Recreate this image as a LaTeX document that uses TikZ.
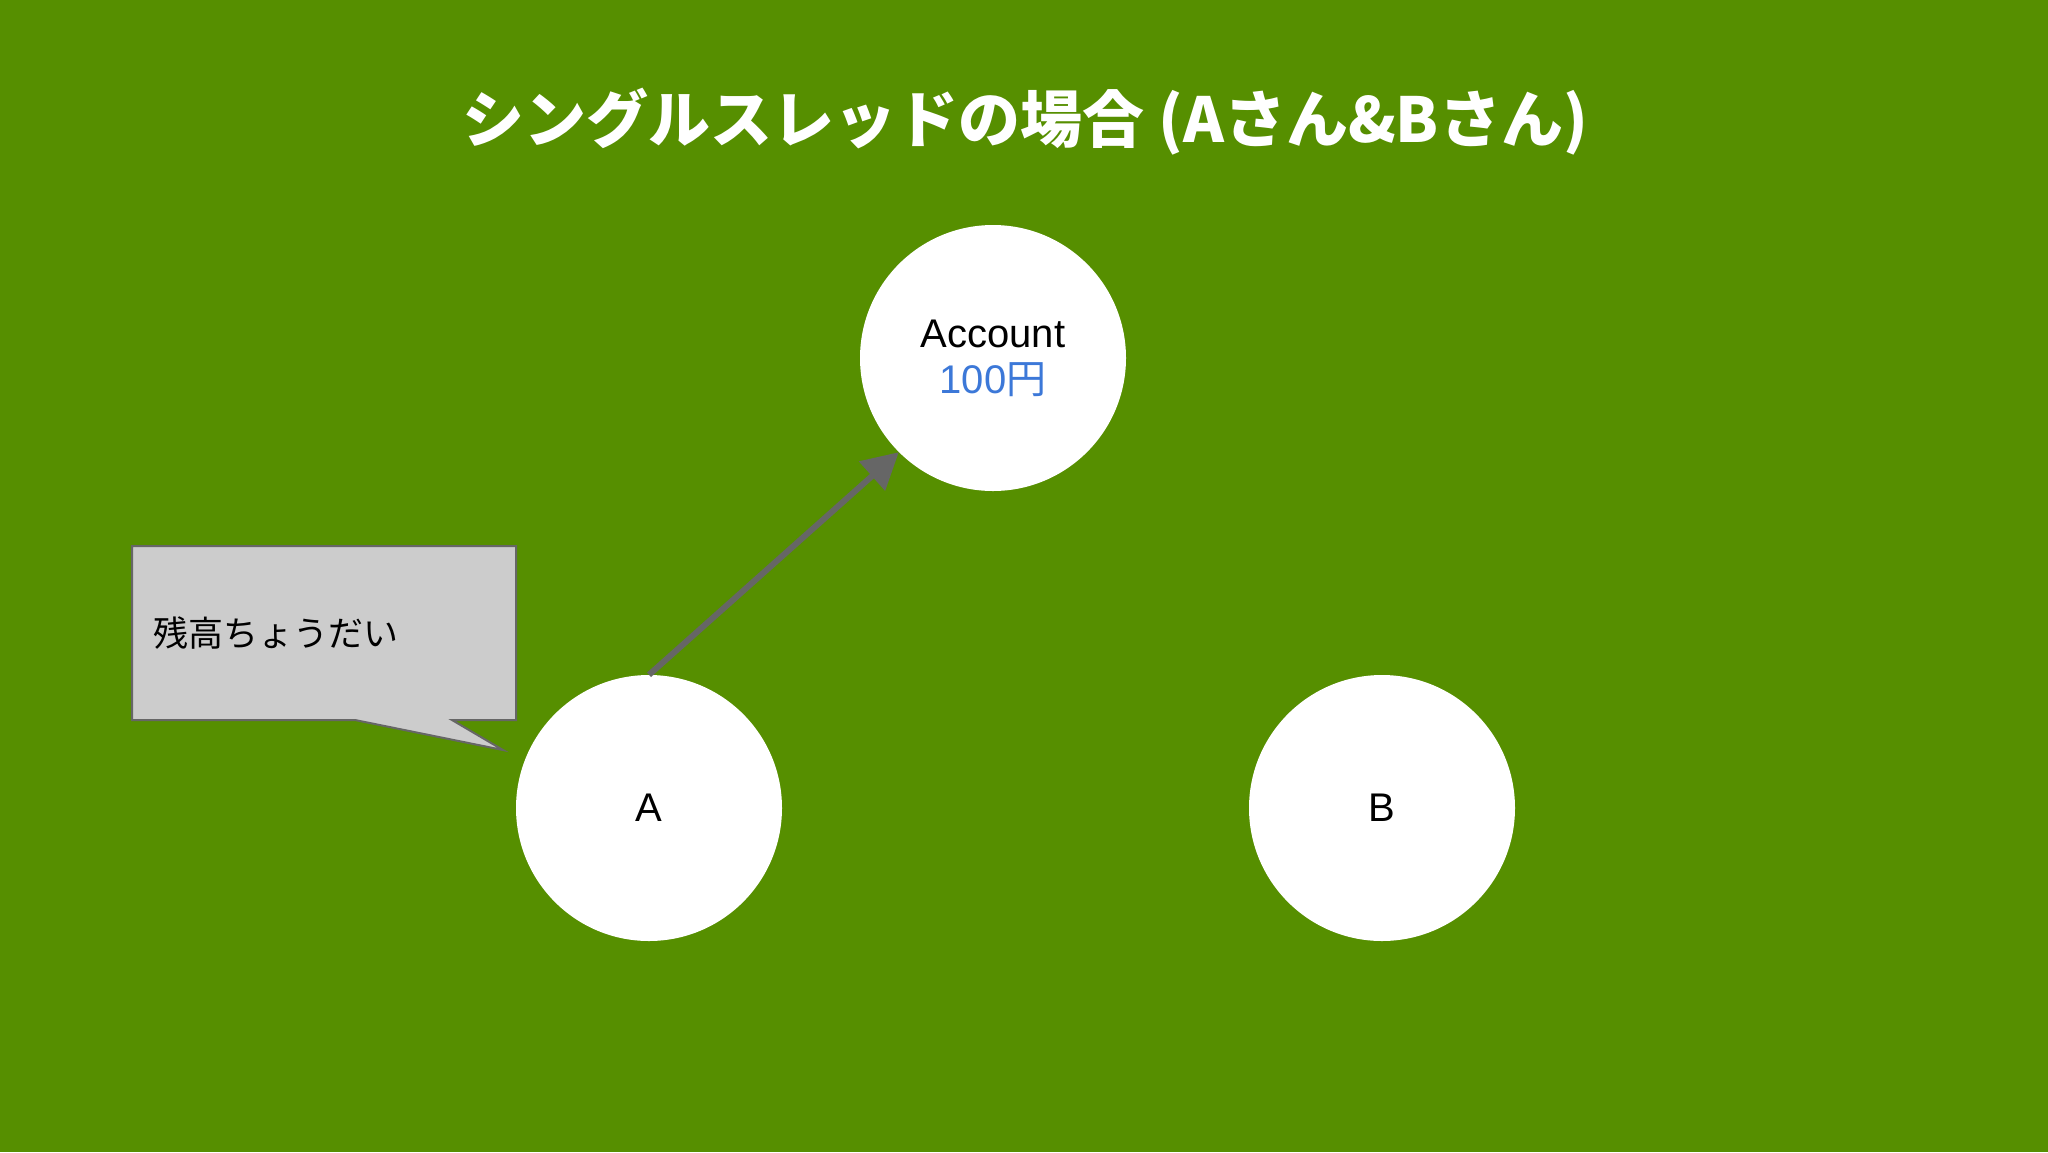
\documentclass[tikz,border=0pt]{standalone}
\usepackage{fontspec}
\setmainfont{Liberation Sans}
\newfontfamily\jp{Noto Sans CJK JP}
\usetikzlibrary{arrows.meta}
\definecolor{bggreen}{RGB}{86,143,0}
\definecolor{calloutgray}{RGB}{204,204,204}
\definecolor{edgegray}{RGB}{102,102,102}
\definecolor{moneyblue}{RGB}{60,120,216}
\tikzset{
  actor/.style={circle, fill=white, draw=none, minimum size=266pt, inner sep=0pt,
    font=\fontsize{40}{46}\selectfont, align=center},
  msg/.style={draw=edgegray, line width=6pt, -{Triangle[length=36pt,width=38pt]}},
  balloon/.style={fill=calloutgray, draw=edgegray, line width=2pt, line join=miter},
}
\begin{document}
\begin{tikzpicture}[x=1pt,y=-1pt]
\fill[bggreen] (0,0) rectangle (2048,1152);
\useasboundingbox (0,0) rectangle (2048,1152);

\node[text=white, font=\jp\bfseries\fontsize{62}{72}\selectfont] (title) at (1025,122)
  {シングルスレッドの場合 (Aさん\&Bさん)};

\node[actor] (account) at (993,358)
  {Account\\[0pt]\textcolor{moneyblue}{100{\jp 円}}};
\node[actor] (a) at (649,808) {A};
\node[actor] (b) at (1382,808) {B};

\coordinate (tl) at (132,546);
\coordinate (tr) at (516,546);
\coordinate (br) at (516,720);
\coordinate (t1) at (452,720);
\coordinate (tip) at (503,750);
\coordinate (t2) at (355,720);
\coordinate (bl) at (132,720);
\draw[balloon] (tl) -- (tr) -- (br) -- (t1) -- (tip) -- (t2) -- (bl) -- cycle;
\node[anchor=west, font=\jp\fontsize{35}{40}\selectfont, inner sep=0pt] (say) at (153,633) {残高ちょうだい};

\draw[msg] (a.north) -- (account.225);
\end{tikzpicture}
\end{document}
